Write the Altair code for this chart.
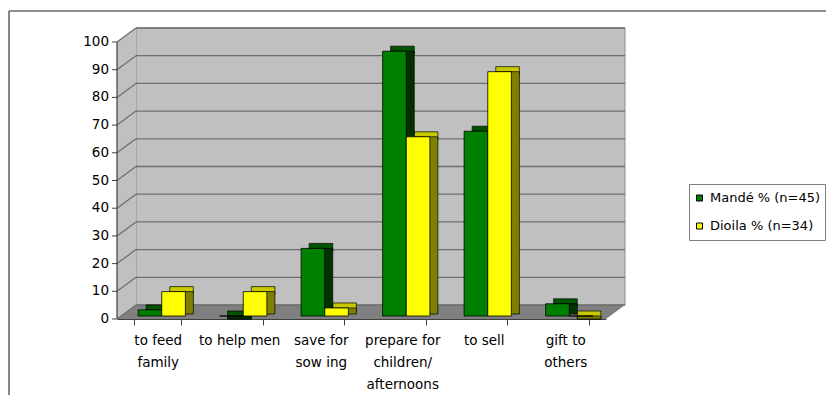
import altair as alt
import pandas as pd

# ---------------- data ----------------
categories = ["to feed|family", "to help men", "save for|sow ing",
              "prepare for|children/|afternoons", "to sell", "gift to|others"]
series = ["Mandé % (n=45)", "Dioila % (n=34)"]
mande = [2.2, 0.0, 24.4, 95.6, 66.7, 4.4]
dioila = [8.8, 8.8, 2.9, 64.7, 88.2, 0.0]
y_ticks = [0, 10, 20, 30, 40, 50, 60, 70, 80, 90, 100]

front_colors = ["#008000", "#ffff00"]
top_colors = ["#005400", "#c8c800"]
side_colors = ["#003300", "#808000"]

# ---------------- layout (pixels) ----------------
W = 489            # front floor width
H = 292            # plot height
Y0 = 292           # pixel of value 0 (front)
Y100 = 15          # pixel of value 100 (front)
DX, DY = 19, 14    # wall depth offset
BDX, BDY = 8, 5    # bar depth offset
SHIFT_X, SHIFT_Y = 4, -3   # bars stand a little behind the front edge
PI, PO = 0.42, 0.21
PPU = (Y0 - Y100) / 100.0
DEPTH_U = DY / PPU
FONT = "DejaVu Sans"

rows = []
for i, c in enumerate(categories):
    for j, (s, vals) in enumerate(zip(series, [mande, dioila])):
        v = vals[i]
        rows.append({"cat": c, "series": s, "value": v,
                     "top_hi": v + BDY / PPU, "side_lo": min(v, BDY / PPU),
                     "top_col": top_colors[j], "side_col": side_colors[j]})
df = pd.DataFrame(rows)

yscale = alt.Scale(domain=[0, 100], range=[Y0, Y100])
xoff = alt.XOffset("series:N", sort=series, scale=alt.Scale(paddingInner=0, paddingOuter=0))


def xband(shift, axis=None):
    return alt.X("cat:N", sort=categories,
                 scale=alt.Scale(range=[shift, W + shift], paddingInner=PI, paddingOuter=PO),
                 axis=axis)


one = pd.DataFrame({"a": [0]})

x_axis = alt.Axis(title=None, labelExpr="split(datum.label, '|')", labelAngle=0,
                  labelFont=FONT, labelFontSize=13.5, labelColor="#000000",
                  labelLineHeight=22, labelPadding=8, tickSize=6, tickBand="extent",
                  domainColor="#404040", tickColor="#404040", domainWidth=1.2)

# outer border (top + left)
border_top = alt.Chart(one).mark_rule(color="#6a6a6a", strokeWidth=1.6).encode(
    x=alt.value(-108), x2=alt.value(W + 250), y=alt.value(-16))
border_left = alt.Chart(one).mark_rule(color="#6a6a6a", strokeWidth=1.6).encode(
    x=alt.value(-108), y=alt.value(-16), y2=alt.value(H + 120))

# back wall
back_wall = alt.Chart(one).mark_rect(fill="#c0c0c0", stroke="#8c8c8c", strokeWidth=1).encode(
    x=alt.value(DX), x2=alt.value(W + DX), y=alt.value(Y100 - DY), y2=alt.value(Y0 - DY))

# side wall
side_df = pd.DataFrame({"px": [0, DX], "top": [100, 100 + DEPTH_U], "bot": [0, DEPTH_U]})
side_wall = alt.Chart(side_df).mark_area(fill="#c0c0c0", orient="vertical").encode(
    x=alt.X("px:Q", scale=None), y=alt.Y("top:Q", scale=yscale, axis=None), y2="bot:Q")

# floor
floor_df = pd.DataFrame({"px": [0, DX, W, W + DX],
                         "top": [0, DEPTH_U, DEPTH_U, DEPTH_U],
                         "bot": [0, 0, 0, DEPTH_U]})
floor = alt.Chart(floor_df).mark_area(fill="#808080", orient="vertical").encode(
    x=alt.X("px:Q", scale=None), y=alt.Y("top:Q", scale=yscale, axis=None), y2="bot:Q")

grid_df = pd.DataFrame({"g": y_ticks, "g2": [t + DEPTH_U for t in y_ticks]})
grid_back = alt.Chart(grid_df).mark_rule(color="#6e6e6e", strokeWidth=1.3, yOffset=-DY).encode(
    y=alt.Y("g:Q", scale=yscale, axis=None), x=alt.value(DX), x2=alt.value(W + DX))
grid_side = alt.Chart(grid_df).mark_rule(color="#6e6e6e", strokeWidth=1.3).encode(
    y=alt.Y("g:Q", scale=yscale, axis=None), y2="g2:Q", x=alt.value(0), x2=alt.value(DX))

# value axis: line, ticks and labels
y_line = alt.Chart(grid_df).mark_rule(color="#404040", strokeWidth=1.2).encode(
    y=alt.Y("min(g):Q", scale=yscale, axis=None), y2="max(g):Q", x=alt.value(0))
y_tickmarks = alt.Chart(grid_df).mark_rule(color="#404040", strokeWidth=1).encode(
    y=alt.Y("g:Q", scale=yscale, axis=None), x=alt.value(-5), x2=alt.value(0))
y_labels = alt.Chart(grid_df).mark_text(align="right", baseline="middle", font=FONT,
                                        fontSize=13.5, color="#000000").encode(
    y=alt.Y("g:Q", scale=yscale, axis=None), x=alt.value(-8), text="g:Q")

axis_layer = alt.Chart(df).mark_bar(opacity=0).encode(
    x=xband(0, x_axis), xOffset=xoff,
    y=alt.Y("value:Q", scale=yscale, axis=None))

depth_top = alt.Chart(df).mark_bar(stroke="#000000", strokeWidth=0.7, yOffset=SHIFT_Y).encode(
    x=xband(SHIFT_X + BDX), xOffset=xoff,
    y=alt.Y("top_hi:Q", scale=yscale, axis=None), y2="value:Q",
    color=alt.Color("top_col:N", scale=None))
depth_side = alt.Chart(df).mark_bar(stroke="#000000", strokeWidth=0.7, yOffset=SHIFT_Y).encode(
    x=xband(SHIFT_X + BDX), xOffset=xoff,
    y=alt.Y("value:Q", scale=yscale, axis=None), y2="side_lo:Q",
    color=alt.Color("side_col:N", scale=None))

bars = alt.Chart(df).mark_bar(stroke="#000000", strokeWidth=0.8, yOffset=SHIFT_Y).encode(
    x=xband(SHIFT_X), xOffset=xoff,
    y=alt.Y("value:Q", scale=yscale, axis=None),
    color=alt.Color("series:N", sort=series,
                    scale=alt.Scale(domain=series, range=front_colors),
                    legend=alt.Legend(title=None, orient="none", legendX=572, legendY=157,
                                      direction="vertical", symbolType="square",
                                      symbolSize=36, symbolStrokeColor="#000000",
                                      symbolStrokeWidth=1, labelFont=FONT,
                                      labelFontSize=13, labelColor="#000000",
                                      labelOffset=4, clipHeight=20, rowPadding=8,
                                      padding=4, strokeColor="#808080",
                                      fillColor="#ffffff")))

chart = alt.layer(border_top, border_left, back_wall, side_wall, floor, grid_back, grid_side,
                  y_line, y_tickmarks, y_labels,
                  axis_layer, depth_top, depth_side, bars).resolve_scale(
    x="independent", xOffset="independent").properties(
    width=W, height=H,
    autosize=alt.AutoSizeParams(type="none"),
    padding={"left": 109, "top": 19, "right": 220, "bottom": 76},
    background="#ffffff",
).configure_view(stroke=None)

chart.save("out.html", embed_options={"renderer": "svg", "actions": False})
